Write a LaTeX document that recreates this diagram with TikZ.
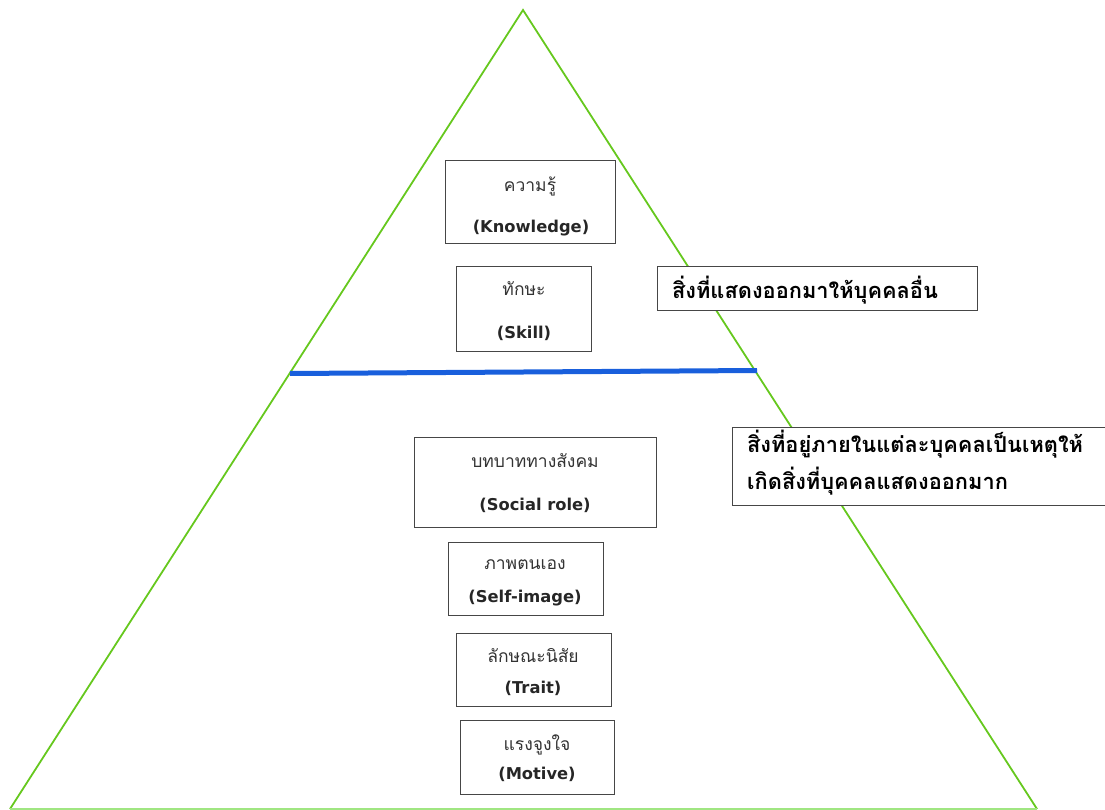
\documentclass[tikz,border=0pt]{standalone}
\usepackage{fontspec}
\setmainfont{DejaVu Sans}
\newfontfamily\thai[Script=Thai]{Loma}
\newfontfamily\enfont{DejaVu Sans}
\definecolor{tri}{RGB}{102,200,30}
\definecolor{trib}{RGB}{160,230,130}
\definecolor{sep}{RGB}{25,95,220}
\definecolor{bx}{RGB}{70,70,70}
\begin{document}
\begin{tikzpicture}[x=1pt,y=-1pt,
  box/.style={draw=bx,line width=0.9pt,rectangle,inner sep=0pt},
  th/.style={inner sep=0pt,font=\thai\fontsize{17.5}{21}\selectfont,text=black!80},
  en/.style={inner sep=0pt,font=\enfont\bfseries\fontsize{16.3}{19}\selectfont,text=black!85},
  note/.style={inner sep=0pt,anchor=west,font=\thai\bfseries\fontsize{21.8}{26}\selectfont,text=black}]
\useasboundingbox (0,0) rectangle (1105,810);
\coordinate (apex) at (523,10);
\coordinate (bl) at (10,809);
\coordinate (br) at (1037,809);
\draw[tri,line width=1.8pt] (bl) -- (apex) -- (br);
\draw[trib,line width=1.4pt] (bl) -- (br);
\coordinate (sl) at (290,373.5);
\coordinate (sr) at (757,370.5);
\draw[sep,line width=5pt] (sl) -- (sr);
% boxes
\node[box,fill=white,minimum width=170pt,minimum height=83pt] (know) at (530,201.5) {};
\node[th] (knowT) at (530,186) {ความรู้};
\node[en] (knowE) at (531,228) {(Knowledge)};
\node[box,fill=white,minimum width=135pt,minimum height=85pt] (skill) at (523.5,308.5) {};
\node[th] (skillT) at (524,289) {ทักษะ};
\node[en] (skillE) at (524,333) {(Skill)};
\node[box,fill=white,minimum width=320pt,minimum height=44pt] (show) at (817,288) {};
\node[note] (showT) at (672,290) {สิ่งที่แสดงออกมาให้บุคคลอื่น};
\node[box,fill=white,minimum width=242pt,minimum height=90pt] (social) at (535,482) {};
\node[th] (socialT) at (535,461) {บทบาททางสังคม};
\node[en] (socialE) at (535,505) {(Social role)};
\node[box,fill=white,minimum width=155pt,minimum height=73pt] (self) at (525.5,578.5) {};
\node[th] (selfT) at (525,565) {ภาพตนเอง};
\node[en] (selfE) at (525,598) {(Self-image)};
\node[box,fill=white,minimum width=155pt,minimum height=73pt] (trait) at (533.5,669.5) {};
\node[th] (traitT) at (533,656) {ลักษณะนิสัย};
\node[en] (traitE) at (533,688) {(Trait)};
\node[box,fill=white,minimum width=154pt,minimum height=74pt] (motive) at (537,757) {};
\node[th] (motiveT) at (537,745) {แรงจูงใจ};
\node[en] (motiveE) at (537,774) {(Motive)};
\node[box,fill=white,minimum width=373pt,minimum height=78pt] (inner) at (918.5,466) {};
\node[note] (innerT1) at (747,444) {สิ่งที่อยู่ภายในแต่ละบุคคลเป็นเหตุให้};
\node[note] (innerT2) at (747,481) {เกิดสิ่งที่บุคคลแสดงออกมาก};
\end{tikzpicture}
\end{document}
